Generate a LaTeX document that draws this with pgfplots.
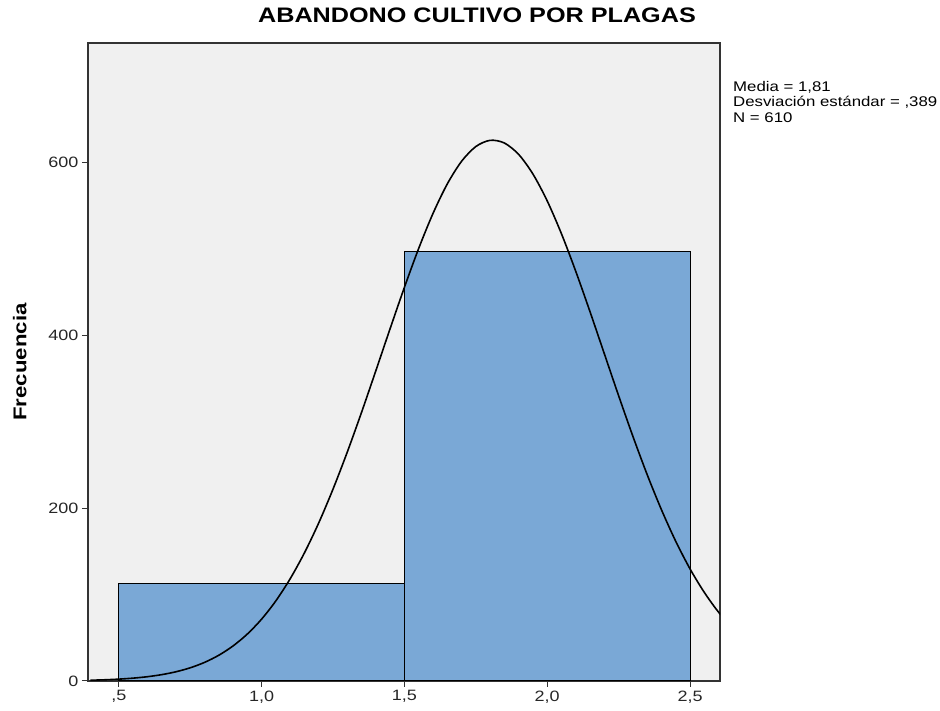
\documentclass[border=0pt]{standalone}
\usepackage{fontspec}
\setmainfont[FakeStretch=1.2]{Liberation Sans}
\usepackage{pgfplots}
\pgfplotsset{compat=1.18}
\definecolor{barblue}{RGB}{122,168,214}
\definecolor{bggray}{RGB}{240,240,240}
\begin{document}
\begin{tikzpicture}
\begin{axis}[
  at={(0pt,0pt)}, anchor=south west,
  scale only axis, width=632pt, height=638pt,
  xmin=0.392, xmax=2.605, ymin=0, ymax=738,
  axis background/.style={fill=bggray},
  axis line style={black!80, line width=1.2pt},
  tick align=outside, xtick pos=bottom, ytick pos=left,
  major tick length=6pt,
  tick style={black!80, line width=1pt},
  xtick={0.5,1,1.5,2,2.5},
  xticklabels={{,5},{1,0},{1,5},{2,0},{2,5}},
  ytick={0,200,400,600},
  /pgf/number format/assume math mode=true,
  ticklabel style={font=\fontsize{15}{17}\selectfont, black!85},
  ylabel={Frecuencia},
  ylabel style={at={(axis description cs:0,0.5)}, anchor=south, yshift=58pt, font=\fontsize{18.5}{20}\selectfont\bfseries},
  title={ABANDONO CULTIVO POR PLAGAS},
  title style={at={(axis description cs:0.5,1)}, anchor=base, xshift=73pt, yshift=14pt, font=\fontsize{21}{24}\selectfont\bfseries},
  clip=true,
]
\addplot[ybar interval, fill=barblue, draw=black, line width=1pt] coordinates {(0.5,113) (1.5,497) (2.5,497)};
\addplot[black, line width=1.6pt, smooth] coordinates {
(0.40,0.88) (0.45,1.39) (0.50,2.16) (0.55,3.30) (0.60,4.96) (0.65,7.33) (0.70,10.67) (0.75,15.27)
(0.80,21.50) (0.85,29.78) (0.90,40.57) (0.95,54.34) (1.00,71.59) (1.05,92.78) (1.10,118.3) (1.15,148.3)
(1.20,182.9) (1.25,222.0) (1.30,264.9) (1.35,310.9) (1.40,359.0) (1.45,407.7) (1.50,455.4) (1.55,500.4)
(1.60,540.8) (1.65,574.9) (1.70,601.1) (1.75,618.2) (1.80,625.4) (1.85,622.3) (1.90,609.1)
(1.95,586.4) (2.00,555.3) (2.05,517.2) (2.10,473.8) (2.15,427.0) (2.20,378.5) (2.25,330.0) (2.30,283.0)
(2.35,238.7) (2.40,198.1) (2.45,161.6) (2.50,129.7) (2.55,102.5) (2.60,79.6) (2.65,61.0)};
\end{axis}
\node[anchor=north west, inner sep=0pt, align=left, font=\fontsize{14}{15.5}\selectfont] at (645pt,600pt) {Media = 1,81\\Desviación estándar = ,389\\N = 610};
\path[use as bounding box] (-88pt,-30pt) rectangle (852pt,681pt);
\end{tikzpicture}
\end{document}
